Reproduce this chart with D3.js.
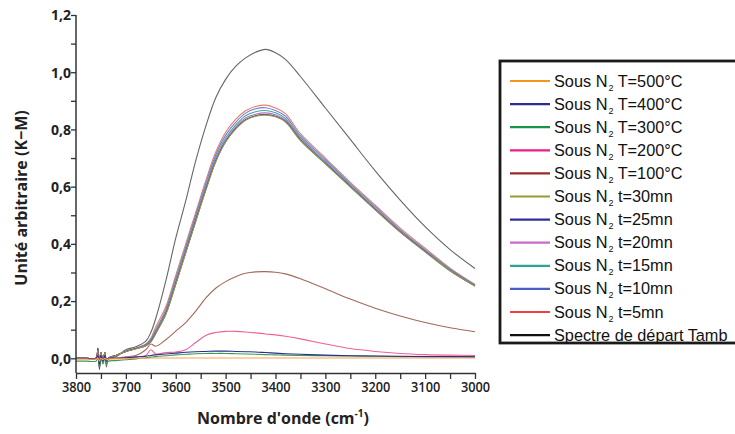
<!DOCTYPE html>
<html><head><meta charset="utf-8">
<script src="https://cdn.jsdelivr.net/npm/d3@7"></script>
<style>body{margin:0;background:#fff}</style>
</head><body><svg id="c" width="735" height="434"></svg>
<script>
// wavenumber grid (cm-1)
const wavenumbers = [3800, 3780, 3760, 3756, 3753, 3750, 3746, 3742, 3739, 3735, 3720, 3700, 3680, 3660, 3650, 3640, 3620, 3600, 3580, 3560, 3540, 3520, 3500, 3480, 3460, 3440, 3420, 3400, 3380, 3350, 3300, 3250, 3200, 3150, 3100, 3050, 3000];

const sousN2_T500 = [-0.003, -0.003, -0.003, 0.0, -0.01, 0.0, -0.005, 0.0, -0.005, -0.003, -0.002, -0.001, 0.0, 0.0, 0.001, 0.001, 0.001, 0.001, 0.001, 0.001, 0.001, 0.001, 0.001, 0.001, 0.001, 0.001, 0.001, 0.001, 0.001, 0.001, 0.001, 0.001, 0.001, 0.001, 0.001, 0.001, 0.001];
const sousN2_T400 = [0.0, 0.0, 0.0, 0.01, -0.02, 0.01, -0.01, 0.01, -0.01, 0.0, 0.0, 0.002, 0.004, 0.007, 0.01, 0.012, 0.015, 0.018, 0.021, 0.023, 0.024, 0.025, 0.025, 0.024, 0.023, 0.022, 0.02, 0.018, 0.016, 0.014, 0.011, 0.009, 0.008, 0.007, 0.006, 0.006, 0.005];
const sousN2_T300 = [-0.01, -0.01, -0.01, 0.0, -0.03, 0.0, -0.02, 0.0, -0.02, -0.01, -0.008, -0.005, -0.002, 0.002, 0.004, 0.006, 0.009, 0.012, 0.014, 0.016, 0.017, 0.017, 0.017, 0.016, 0.015, 0.014, 0.013, 0.012, 0.011, 0.01, 0.009, 0.008, 0.007, 0.006, 0.006, 0.005, 0.005];
const sousN2_T200 = [0.0, 0.0, 0.0, 0.01, -0.01, 0.01, -0.005, 0.005, -0.005, 0.0, 0.0, 0.003, 0.006, 0.01, 0.03, 0.015, 0.02, 0.022, 0.03, 0.055, 0.08, 0.09, 0.094, 0.094, 0.092, 0.089, 0.085, 0.082, 0.077, 0.068, 0.05, 0.034, 0.024, 0.017, 0.013, 0.011, 0.01];
const sousN2_T100 = [0.0, 0.0, 0.0, 0.02, -0.02, 0.01, -0.01, 0.01, -0.01, 0.0, 0.0, 0.005, 0.01, 0.03, 0.05, 0.042, 0.065, 0.095, 0.125, 0.165, 0.21, 0.245, 0.268, 0.285, 0.297, 0.302, 0.303, 0.301, 0.295, 0.278, 0.243, 0.207, 0.175, 0.148, 0.125, 0.107, 0.093];
const sousN2_t30 = [0.0, 0.0, 0.0, 0.03, -0.03, 0.02, -0.01, 0.02, -0.02, 0.0, 0.01, 0.024, 0.033, 0.044, 0.057, 0.087, 0.153, 0.258, 0.368, 0.478, 0.586, 0.686, 0.756, 0.801, 0.832, 0.846, 0.85, 0.844, 0.826, 0.761, 0.68, 0.599, 0.519, 0.441, 0.372, 0.306, 0.253];
const sousN2_t25 = [0.0, 0.0, 0.0, 0.035, -0.035, 0.02, -0.01, 0.02, -0.02, 0.0, 0.01, 0.024, 0.034, 0.044, 0.058, 0.088, 0.155, 0.26, 0.37, 0.48, 0.588, 0.688, 0.758, 0.803, 0.834, 0.848, 0.852, 0.846, 0.828, 0.763, 0.681, 0.6, 0.52, 0.442, 0.373, 0.306, 0.253];
const sousN2_t20 = [0.0, 0.0, 0.0, 0.03, -0.03, 0.02, -0.01, 0.02, -0.02, 0.0, 0.01, 0.024, 0.034, 0.045, 0.06, 0.09, 0.16, 0.265, 0.375, 0.485, 0.593, 0.693, 0.763, 0.808, 0.84, 0.853, 0.858, 0.851, 0.832, 0.767, 0.684, 0.602, 0.522, 0.444, 0.375, 0.308, 0.254];
const sousN2_t15 = [0.0, 0.0, 0.0, 0.03, -0.03, 0.02, -0.01, 0.02, -0.02, 0.0, 0.01, 0.024, 0.034, 0.046, 0.063, 0.095, 0.165, 0.272, 0.382, 0.492, 0.6, 0.7, 0.77, 0.815, 0.848, 0.862, 0.866, 0.858, 0.838, 0.772, 0.688, 0.605, 0.525, 0.446, 0.377, 0.31, 0.255];
const sousN2_t10 = [0.0, 0.0, 0.0, 0.035, -0.03, 0.02, -0.01, 0.02, -0.02, 0.0, 0.01, 0.025, 0.035, 0.048, 0.066, 0.1, 0.17, 0.28, 0.39, 0.5, 0.61, 0.71, 0.78, 0.825, 0.857, 0.872, 0.876, 0.866, 0.846, 0.778, 0.694, 0.61, 0.53, 0.45, 0.38, 0.312, 0.256];
const sousN2_t5 = [0.0, 0.0, 0.0, 0.03, -0.03, 0.02, -0.01, 0.02, -0.02, 0.0, 0.01, 0.025, 0.035, 0.05, 0.07, 0.11, 0.18, 0.29, 0.4, 0.51, 0.62, 0.72, 0.79, 0.835, 0.865, 0.88, 0.885, 0.875, 0.855, 0.785, 0.7, 0.615, 0.535, 0.455, 0.385, 0.315, 0.258];
const spectreTamb = [0.0, 0.0, 0.0, 0.03, -0.04, 0.02, -0.01, 0.02, -0.03, 0.0, 0.005, 0.03, 0.04, 0.06, 0.09, 0.14, 0.27, 0.42, 0.55, 0.69, 0.81, 0.91, 0.975, 1.02, 1.05, 1.07, 1.08, 1.068, 1.045, 0.985, 0.875, 0.765, 0.655, 0.553, 0.46, 0.38, 0.314];

const legendSuffix = ["T=500°C", "T=400°C", "T=300°C", "T=200°C", "T=100°C", "t=30mn", "t=25mn", "t=20mn", "t=15mn", "t=10mn", "t=5mn", null];
const seriesColors = ["#f7941d", "#2b2e8c", "#15964a", "#ec1c8c", "#9b2a2a", "#999933", "#2e3192", "#c86ccc", "#2aa39b", "#4a5fc1", "#ef4040", "#111111"];
const seriesValues = [sousN2_T500, sousN2_T400, sousN2_T300, sousN2_T200, sousN2_T100, sousN2_t30, sousN2_t25, sousN2_t20, sousN2_t15, sousN2_t10, sousN2_t5, spectreTamb];
const plotColors = ["#f9a04a", "#2b2e8c", "#3a9a5a", "#f0609a", "#a06a5a", "#9a9a40", "#3a2f90", "#b070c8", "#40a8a0", "#7080d0", "#f07a6a", "#666666"];

const xTicks = [3800, 3700, 3600, 3500, 3400, 3300, 3200, 3100, 3000];
const yTicks = [0, 0.2, 0.4, 0.6, 0.8, 1.0, 1.2];

const svg = d3.select("#c");
const x = d3.scaleLinear().domain([3800, 3000]).range([76, 475]);
const y = d3.scaleLinear().domain([-0.0514, 1.2]).range([373, 15]);

const line = d3.line().x((d, i) => x(wavenumbers[i])).y(d => y(d)).curve(d3.curveCatmullRom.alpha(0.5));

const order = d3.range(seriesValues.length).reverse();
svg.append("g").selectAll("path").data(order).join("path")
  .attr("d", i => line(seriesValues[i]))
  .attr("fill", "none")
  .attr("stroke", i => plotColors[i])
  .attr("stroke-width", 1.1);

const tickFont = "'Open Sans', sans-serif";
// X axis
const xAxis = svg.append("g").attr("transform", "translate(0,373)")
  .call(d3.axisBottom(x).tickValues(d3.range(3800, 2999, -50)).tickSize(6).tickSizeOuter(0)
    .tickFormat(d => xTicks.includes(d) ? d : ""));
xAxis.select(".domain").attr("stroke", "#333").attr("stroke-width", 1.5);
xAxis.selectAll(".tick line").attr("stroke", "#333").attr("stroke-width", 1.3);
xAxis.selectAll(".tick text").attr("font-family", tickFont).attr("font-weight", 600)
  .attr("font-size", 14.5).attr("fill", "#222").attr("y", 9).attr("transform", "scale(0.88,1)");

// Y axis
const yAxis = svg.append("g").attr("transform", "translate(76,0)")
  .call(d3.axisLeft(y).tickValues(d3.range(0, 1.21, 0.1)).tickSize(5).tickSizeOuter(0)
    .tickFormat(d => (Math.round(d * 10) % 2 === 0) ? d3.format(".1f")(d).replace(".", ",") : ""));
yAxis.select(".domain").attr("stroke", "#333").attr("stroke-width", 1.5)
  .attr("d", "M0," + y(-0.0514) + "V" + y(1.2));
yAxis.selectAll(".tick line").attr("stroke", "#333").attr("stroke-width", 1.3);
yAxis.selectAll(".tick text").attr("font-family", tickFont).attr("font-weight", 700)
  .attr("font-size", 14).attr("fill", "#222").attr("x", -5).attr("dy", "0.35em");

// Axis titles
svg.append("text").attr("transform", "translate(27,198) rotate(-90)")
  .attr("text-anchor", "middle").attr("font-family", tickFont).attr("font-weight", 700)
  .attr("font-size", 16).attr("fill", "#222").text("Unité arbitraire (K−M)");
const xt = svg.append("text").attr("x", 283).attr("y", 424).attr("text-anchor", "middle")
  .attr("font-family", tickFont).attr("font-weight", 700).attr("font-size", 16).attr("fill", "#222");
xt.append("tspan").text("Nombre d'onde (cm");
xt.append("tspan").attr("font-size", 10).attr("dy", -7).text("-1");
xt.append("tspan").attr("dy", 7).text(")");

// Legend
const lg = svg.append("g");
lg.append("rect").attr("x", 500).attr("y", 61).attr("width", 260).attr("height", 282)
  .attr("fill", "#fff").attr("stroke", "#1a1a1a").attr("stroke-width", 2.8);
const rows = lg.selectAll("g.row").data(d3.range(seriesValues.length)).join("g")
  .attr("transform", i => "translate(0," + (81 + i * 23.1) + ")");
rows.append("line").attr("x1", 510).attr("x2", 550).attr("y1", 0).attr("y2", 0)
  .attr("stroke", i => seriesColors[i]).attr("stroke-width", 2.2);
rows.each(function(i) {
  const t = d3.select(this).append("text").attr("x", 554).attr("y", 5.5)
    .attr("font-family", "'Liberation Sans', Arial, sans-serif").attr("font-size", 16.3).attr("fill", "#111");
  if (legendSuffix[i] === null) {
    t.text("Spectre de départ Tamb");
  } else {
    t.append("tspan").text("Sous N");
    t.append("tspan").attr("font-size", 9).attr("dy", 4).attr("dx", 1).text("2");
    t.append("tspan").attr("dy", -4).text(" " + legendSuffix[i]);
  }
});
</script>
</body></html>
